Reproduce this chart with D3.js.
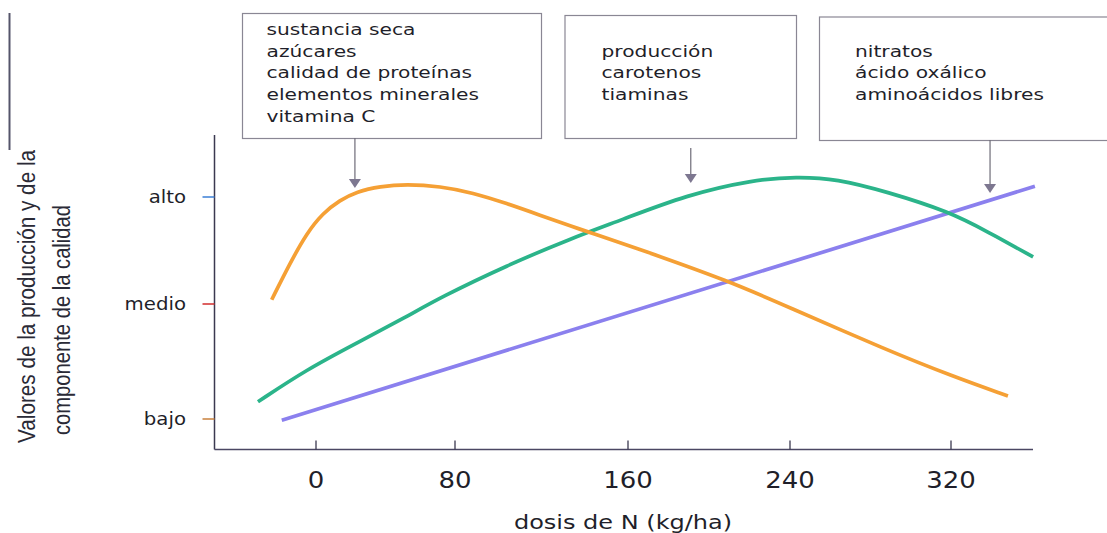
<!DOCTYPE html>
<html><head><meta charset="utf-8">
<script src="https://cdn.jsdelivr.net/npm/d3@7"></script>
<style>html,body{margin:0;padding:0;background:#fff;overflow:hidden}</style>
</head><body>
<svg id="c" width="1107" height="533"></svg>
<script>
// ---------- data ----------
const xTicks = [0, 80, 160, 240, 320];
const yLevels = ["bajo", "medio", "alto"];
const xTitle = "dosis de N (kg/ha)";
const yTitle = ["Valores de la producción y de la", "componente de la calidad"];

const box1Lines = ["sustancia seca", "azúcares", "calidad de proteínas", "elementos minerales", "vitamina C"];
const box2Lines = ["producción", "carotenos", "tiaminas"];
const box3Lines = ["nitratos", "ácido oxálico", "aminoácidos libres"];

// curve 1 (orange) – sustancia seca, azúcares, ...
const orangeDose  = [-25.5, -15, -5.4, 4, 13.8, 23.4, 36.8, 52.2, 71.4, 88.3, 103.9, 119.3, 134.6, 143.8, 165.9, 210.4, 238.4, 288, 321, 348.3];
const orangeLevel = [1.04, 1.38, 1.66, 1.85, 1.97, 2.05, 2.10, 2.12, 2.10, 2.04, 1.94, 1.83, 1.72, 1.66, 1.51, 1.21, 0.98, 0.60, 0.37, 0.20];
// curve 2 (green) – producción, carotenos, tiaminas
const greenDose  = [-33.4, -5.4, 23.4, 52.2, 71.4, 103.9, 134.6, 156.3, 189, 221.7, 243.3, 263.2, 288, 319.5, 337.7, 360.8];
const greenLevel = [0.15, 0.43, 0.66, 0.89, 1.06, 1.36, 1.62, 1.78, 2.02, 2.16, 2.19, 2.17, 2.05, 1.86, 1.68, 1.44];
// curve 3 (purple) – nitratos, ácido oxálico, aminoácidos libres
const purpleDose  = [-19.7, 361.7];
const purpleLevel = [-0.01, 2.10];

// dose each annotation arrow points at
const arrowDoses = [22.4, 191, 339.4];

// ---------- layout ----------
const svg = d3.select("#c");
const x = d3.scaleLinear().domain(xTicks).range([316, 455, 628, 790, 951]);
const y = d3.scaleLinear().domain([0, 1, 2]).range([419, 304, 197]);

const axisY = 449.5, axisX = 214.5;
const textCol = "#1f1f2a";
const sans = "'DejaVu Sans', Verdana, sans-serif";

function addText(g, str, px, py, size, sx, anchor, family) {
  return g.append("text")
    .attr("transform", `translate(${px},${py}) scale(${sx},1)`)
    .attr("text-anchor", anchor)
    .attr("font-family", family || sans)
    .attr("font-size", size)
    .attr("fill", textCol)
    .text(str);
}

// decorative scan border at far left
svg.append("line").attr("x1", 9.5).attr("x2", 9.5).attr("y1", 13).attr("y2", 150)
  .attr("stroke", "#55556a").attr("stroke-width", 2);

// ---------- boxes ----------
const boxes = [
  {lines: box1Lines, x: 242, y: 13, w: 299, h: 125, tx: 266.5, first: 0, tip: 188, start: 138},
  {lines: box2Lines, x: 564.5, y: 15, w: 231.5, h: 123, tx: 601.5, first: 1, tip: 183, start: 148},
  {lines: box3Lines, x: 819, y: 16.5, w: 300, h: 123.5, tx: 855, first: 1, tip: 193, start: 140}
];
const lineBase = 35, lineStep = 21.7;
const gBox = svg.append("g");
boxes.forEach((b, i) => {
  gBox.append("rect").attr("x", b.x + 0.5).attr("y", b.y + 0.5).attr("width", b.w).attr("height", b.h)
    .attr("fill", "none").attr("stroke", "#8a8794").attr("stroke-width", 1.2);
  b.lines.forEach((t, j) => addText(gBox, t, b.tx, lineBase + (b.first + j) * lineStep, 16.3, 1.24, "start"));
  const ax = x(arrowDoses[i]);
  gBox.append("line").attr("x1", ax).attr("x2", ax).attr("y1", b.start).attr("y2", b.tip - 8)
    .attr("stroke", "#6e6c78").attr("stroke-width", 1.2);
  gBox.append("path")
    .attr("d", `M${ax - 6},${b.tip - 9} L${ax + 6},${b.tip - 9} L${ax},${b.tip} Z`)
    .attr("fill", "#7d7790");
});

// ---------- axes ----------
const gAx = svg.append("g");
gAx.append("line").attr("x1", axisX).attr("x2", axisX).attr("y1", 135).attr("y2", axisY)
  .attr("stroke", "#3b3950").attr("stroke-width", 1.5);
gAx.append("line").attr("x1", axisX).attr("x2", 1033).attr("y1", axisY).attr("y2", axisY)
  .attr("stroke", "#4b4763").attr("stroke-width", 1.5);

// x ticks and labels
xTicks.forEach(v => {
  gAx.append("line").attr("x1", x(v)).attr("x2", x(v)).attr("y1", axisY - 9).attr("y2", axisY)
    .attr("stroke", "#3b3950").attr("stroke-width", 1.3);
  addText(gAx, String(v), x(v), 488, 23, 1.13, "middle");
});
addText(gAx, xTitle, 623, 529, 20, 1.2, "middle");

// y ticks and labels
const yTickCols = ["#c8813c", "#d22c2c", "#3b7fd6"];
yLevels.forEach((lab, i) => {
  gAx.append("line").attr("x1", axisX - 12).attr("x2", axisX).attr("y1", y(i)).attr("y2", y(i))
    .attr("stroke", yTickCols[i]).attr("stroke-width", 1.5);
  addText(gAx, lab, 186, y(i) + 6, 17, 1.16, "end");
});

// y title (rotated, two lines)
const yTitlePos = [{bx: 35, by: 443, len: 293}, {bx: 70, by: 435, len: 230}];
yTitle.forEach((t, i) => {
  svg.append("text")
    .attr("transform", `translate(${yTitlePos[i].bx},${yTitlePos[i].by}) rotate(-90)`)
    .attr("font-family", "'Liberation Sans', Arial, sans-serif")
    .attr("font-size", 23)
    .attr("textLength", yTitlePos[i].len)
    .attr("lengthAdjust", "spacingAndGlyphs")
    .attr("fill", "#2a2a36")
    .text(t);
});

// ---------- curves ----------
const series = [
  {dose: purpleDose, level: purpleLevel, color: "#8b80ee", curve: d3.curveLinear},
  {dose: greenDose, level: greenLevel, color: "#2bb48a", curve: d3.curveBasis},
  {dose: orangeDose, level: orangeLevel, color: "#f5a035", curve: d3.curveBasis}
];
const gLines = svg.append("g");
series.forEach(s => {
  const pts = s.dose.map((d, i) => [d, s.level[i]]);
  gLines.append("path")
    .attr("d", d3.line().x(p => x(p[0])).y(p => y(p[1])).curve(s.curve)(pts))
    .attr("fill", "none").attr("stroke", s.color).attr("stroke-width", 3.7)
    .attr("stroke-linecap", "butt");
});
</script>
</body></html>
